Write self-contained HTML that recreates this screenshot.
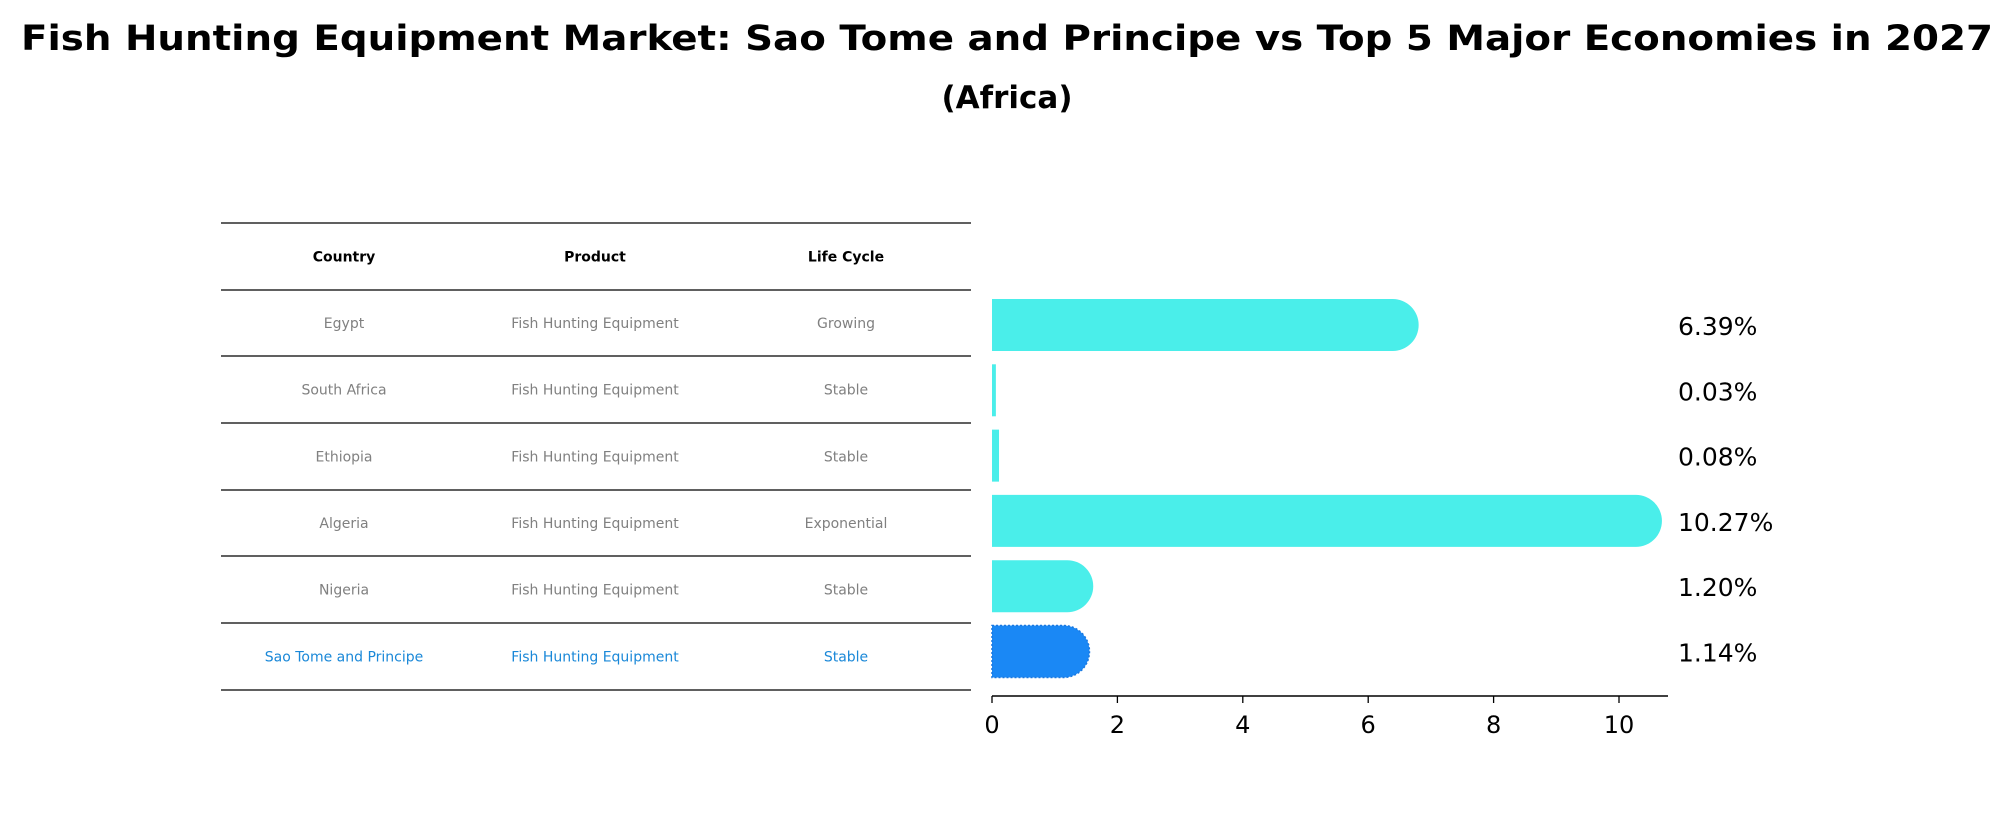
<!DOCTYPE html>
<html><head><meta charset="utf-8"><style>
html,body{margin:0;padding:0;background:#fff;}
svg{display:block;font-family:"DejaVu Sans","Liberation Sans",sans-serif;}
</style></head><body>
<svg id="chart" width="2015" height="823" viewBox="0 0 2015 823">
<text x="1007" y="50" text-anchor="middle" font-size="35" font-weight="bold" textLength="1972" lengthAdjust="spacingAndGlyphs">Fish Hunting Equipment Market: Sao Tome and Principe vs Top 5 Major Economies in 2027</text>
<text x="1007" y="108" text-anchor="middle" font-size="31" font-weight="bold">(Africa)</text>
<g id="table"></g>
<g id="bars"></g>
</svg>
<script>
const countries = ["Egypt","South Africa","Ethiopia","Algeria","Nigeria","Sao Tome and Principe"];
const products = ["Fish Hunting Equipment","Fish Hunting Equipment","Fish Hunting Equipment","Fish Hunting Equipment","Fish Hunting Equipment","Fish Hunting Equipment"];
const lifeCycles = ["Growing","Stable","Stable","Exponential","Stable","Stable"];
const values = [6.39,0.03,0.08,10.27,1.20,1.14];
const valueLabels = ["6.39%","0.03%","0.08%","10.27%","1.20%","1.14%"];
const xTicks = [0,2,4,6,8,10];

const NS="http://www.w3.org/2000/svg";
function mk(tag,attrs,parent){const e=document.createElementNS(NS,tag);for(const k in attrs)e.setAttribute(k,attrs[k]);parent.appendChild(e);return e;}
const table=document.getElementById('table');
const bars=document.getElementById('bars');
const lineYs=[223,290,356,423,490,556,623,690];
const colX=[344,595,846];
function rowCenter(i){return (lineYs[i+1]+lineYs[i+2])/2;}
for(let i=0;i<lineYs.length;i++){
  const l=mk('line',{x1:221,x2:971,y1:lineYs[i],y2:lineYs[i],stroke:'#000','stroke-width':1.3},table);
  
  
}
const heads=["Country","Product","Life Cycle"];
heads.forEach((h,j)=>{
  const t=mk('text',{x:colX[j],y:(lineYs[0]+lineYs[1])/2+5,'text-anchor':'middle','font-size':14,'font-weight':'bold'},table);
  t.textContent=h;
  
  
});
countries.forEach((c,i)=>{
  const col=i===countries.length-1?'#1a88d8':'#808080';
  [c,products[i],lifeCycles[i]].forEach((v,j)=>{
    const t=mk('text',{x:colX[j],y:rowCenter(i)+5,'text-anchor':'middle','font-size':14,fill:col},table);
    t.textContent=v;
    
    
  });
});
// axes
const x0=992, xs=62.7;
function xScale(v){return x0+v*xs;}
const axisY=696;
const ax=mk('line',{x1:x0,x2:1668,y1:axisY,y2:axisY,stroke:'#000','stroke-width':1.5},bars);


xTicks.forEach(v=>{
  const tk=mk('line',{x1:xScale(v),x2:xScale(v),y1:axisY,y2:axisY+7,stroke:'#000','stroke-width':1.3},bars);
  
  
  const t=mk('text',{x:xScale(v),y:axisY+37,'text-anchor':'middle','font-size':24},bars);
  t.textContent=v;
  
  
});
const bh=52, r=26;
values.forEach((v,i)=>{
  const cy=325+i*65.3;
  const top=cy-bh/2;
  const xe=xScale(v);
  const color=i===values.length-1?'#1a88f5':'#4aeeea';
  let d;
  if(v>0.5){
    d=`M${x0},${top} H${xe} A${r},${bh/2} 0 0 1 ${xe},${top+bh} H${x0} Z`;
  }else{
    d=`M${x0},${top} H${xe+2} V${top+bh} H${x0} Z`;
  }
  const p=mk('path',{d:d,fill:color},bars);
  if(i===values.length-1){p.setAttribute('stroke','#1a78e0');p.setAttribute('stroke-dasharray','2,2');p.setAttribute('stroke-width','1.5');}
  
  
  const t=mk('text',{x:1678,y:cy+10,'font-size':25},bars);
  t.textContent=valueLabels[i];
  
  
});
</script>
</body></html>
